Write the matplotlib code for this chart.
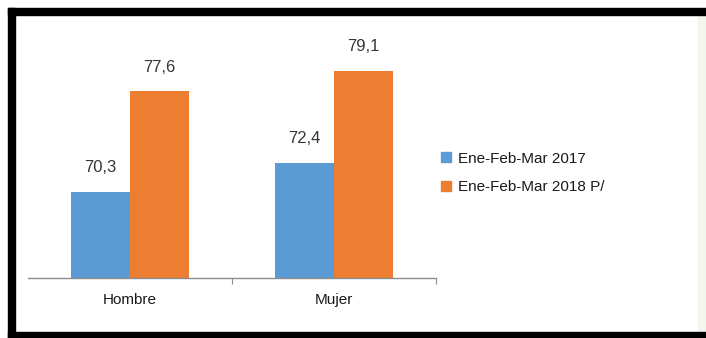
import matplotlib
matplotlib.use('Agg')
import matplotlib.pyplot as plt
from matplotlib.patches import Rectangle
from matplotlib.lines import Line2D
import numpy as np

categories = ['Hombre', 'Mujer']
series_names = ['Ene-Feb-Mar 2017', 'Ene-Feb-Mar 2018 P/']
vals_2017 = [70.3, 72.4]
vals_2018 = [77.6, 79.1]
colors = ['#5B9BD5', '#ED7D31']

plt.rcParams['font.family'] = ['Liberation Sans', 'DejaVu Sans']

W, H = 706, 338
fig = plt.figure(figsize=(W / 100, H / 100), dpi=100)

# background: light green strip on the right and thick black frame
fig.patches.append(Rectangle((698 / W, (H - 332) / H), 8 / W, 317 / H,
                             transform=fig.transFigure, color='#F1F6EF', zorder=0))
for x0, y0, w, h in [(8, 8, W - 8, 7), (8, 8, 7, H - 8), (8, 332, W - 8, 6)]:
    fig.patches.append(Rectangle((x0 / W, (H - y0 - h) / H), w / W, h / H,
                                 transform=fig.transFigure, color='black', zorder=1))

ax = fig.add_axes([28 / W, (H - 278) / H, 408 / W, 247 / H])
x = np.arange(len(categories))
bw = 0.29
b1 = ax.bar(x - bw / 2, vals_2017, bw, color=colors[0], zorder=2)
b2 = ax.bar(x + bw / 2, vals_2018, bw, color=colors[1], zorder=2)

for bars, vals in [(b1, vals_2017), (b2, vals_2018)]:
    for rect, v in zip(bars, vals):
        ax.annotate(f'{v:.1f}'.replace('.', ','),
                    (rect.get_x() + rect.get_width() / 2, v),
                    xytext=(0, 12), textcoords='offset points',
                    ha='center', va='bottom', fontsize=12, color='#353535')

ax.set_ylim(64, 82)
ax.set_xlim(-0.5, 1.5)
ax.set_facecolor('none')
for s in ['top', 'right', 'left']:
    ax.spines[s].set_visible(False)
ax.spines['bottom'].set_color('#8C8C8C')
ax.spines['bottom'].set_linewidth(1)
ax.set_yticks([])
ax.set_xticks([0.5, 1.5])
ax.set_xticklabels([])
ax.tick_params(axis='x', length=4, color='#8C8C8C', direction='out')
for xi, c in zip(x, categories):
    ax.text(xi, -0.09, c, transform=ax.get_xaxis_transform(),
            ha='center', va='center', fontsize=11, color='#1A1A1A')

handles = [Line2D([], [], marker='s', linestyle='none', markersize=7,
                  markerfacecolor=c, markeredgecolor=c) for c in colors]
fig.legend(handles, series_names, loc='center left',
           bbox_to_anchor=(426 / W, (H - 173) / H), frameon=False,
           fontsize=11, labelcolor='#1A1A1A', handlelength=0.8,
           handletextpad=0.4, labelspacing=0.95)

fig.savefig('out.png', dpi=100)
